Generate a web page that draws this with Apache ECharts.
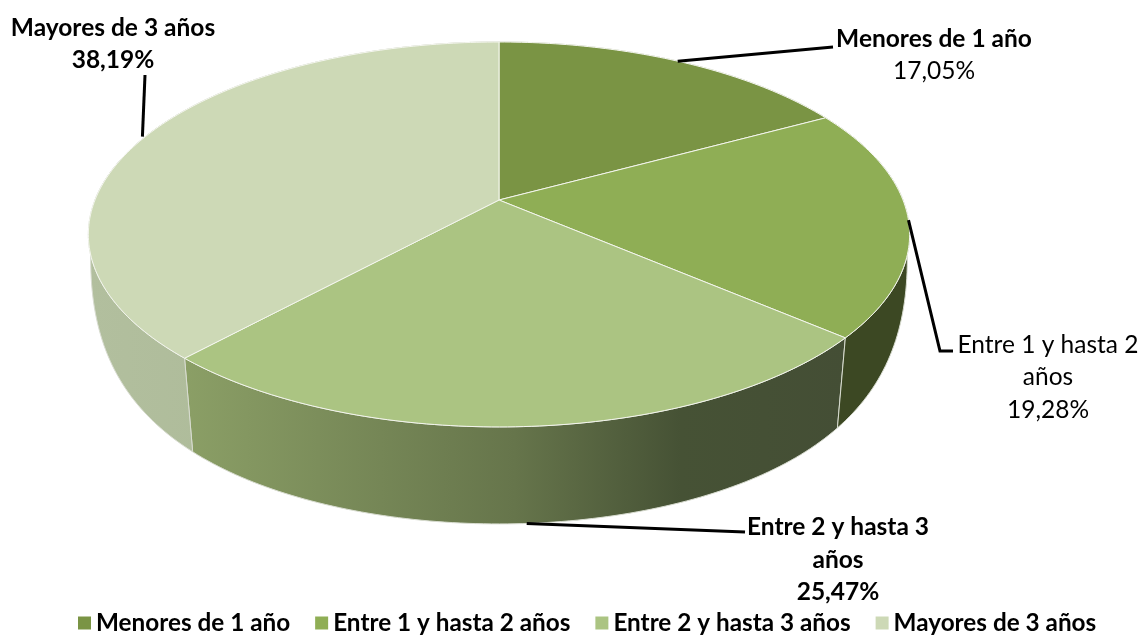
<!DOCTYPE html>
<html><head><meta charset="utf-8">
<style>html,body{margin:0;padding:0;background:#fff}#c{width:1140px;height:635px}</style>
<script src="https://cdn.jsdelivr.net/npm/echarts@6/dist/echarts.min.js"></script>
</head><body><div id="c"></div>
<script>
const categories = ['Menores de 1 año','Entre 1 y hasta 2 años','Entre 2 y hasta 3 años','Mayores de 3 años'];
const shares = [17.05,19.28,25.47,38.19];
const shareLabels = ['17,05%','19,28%','25,47%','38,19%'];
const topColors = ['#7a9444','#8fae55','#abc482','#cdd9b6'];

const pie = {cx:499, cy:200, R:404, k:186.3, p:0.179, depth:97, shrink:0.035};
const total = shares.reduce((a,b)=>a+b,0);
const sideFill = [
  '#5a6e33',
  '#3c4823',
  new echarts.graphic.LinearGradient(0,0,1,0,[{offset:0,color:'#8b9f66'},{offset:.5,color:'#66754b'},{offset:.75,color:'#465235'},{offset:1,color:'#444e35'}]),
  new echarts.graphic.LinearGradient(0,0,1,0,[{offset:0,color:'#b2bf9e'},{offset:1,color:'#a7b593'}])
];
// per-slice label layout: text lines and leader line
const labelLayout = [
  {cx:934, lines:[[39,true,categories[0]],[71,false,shareLabels[0]]], leader:[[833,47]], dx:0, onRim:false},
  {cx:1048, lines:[[345,false,'Entre 1 y hasta 2'],[377,false,'años'],[410,false,shareLabels[1]]], leader:[[940,351],[953,351]], dx:0, onRim:false},
  {cx:838, lines:[[527,true,'Entre 2 y hasta 3'],[560,true,'años'],[592,true,shareLabels[2]]], leader:[[745,532]], dx:0, onRim:true},
  {cx:113, lines:[[28,true,categories[3]],[60,true,shareLabels[3]]], leader:[[145,75]], dx:-3, onRim:false}
];
function rimParam(theta){
  const u=Math.sin(theta), v=-Math.cos(theta), s=1/(1-pie.p*v);
  return {v, pt:[pie.cx+pie.R*u*s, pie.cy+pie.k*v*s]};
}
function project(theta){ return rimParam(theta).pt; }
function lowerAt(theta){
  const {v,pt}=rimParam(theta), f=Math.max(0,v);
  const d=pie.depth*(1-Math.pow(1-f,2.5));
  return [pie.cx+(pt[0]-pie.cx)*(1-pie.shrink*f), pt[1]+d];
}
function angles(a0,a1){
  const n=Math.max(8,Math.ceil((a1-a0)*60)), r=[];
  for(let i=0;i<=n;i++) r.push(a0+(a1-a0)*i/n);
  return r;
}
function sliceRange(i){
  const before=shares.slice(0,i).reduce((a,b)=>a+b,0);
  return [before/total*2*Math.PI,(before+shares[i])/total*2*Math.PI];
}
const font='Lato, "Open Sans", sans-serif';
const render = i => () => {
  const [a0,a1]=sliceRange(i), th=angles(a0,a1), rim=th.map(project);
  const children=[];
  children.push({type:'polygon',z2:i===1?2:1,shape:{points:rim.concat(th.map(lowerAt).reverse())},
    style:{fill:sideFill[i],stroke:'#d8dcd0',lineWidth:1}});
  children.push({type:'polygon',z2:10,shape:{points:[[pie.cx,pie.cy]].concat(rim)},
    style:{fill:topColors[i],stroke:'#f4f6ee',lineWidth:1}});
  const midA=(a0+a1)/2, lay=labelLayout[i];
  const base=lay.onRim?lowerAt(midA):project(midA);
  const start=[base[0]+lay.dx,base[1]];
  children.push({type:'polyline',z2:20,shape:{points:[start].concat(lay.leader)},
    style:{fill:null,stroke:'#000',lineWidth:3}});
  lay.lines.forEach(l=>children.push({type:'text',z2:20,x:lay.cx,y:l[0],
    style:{text:l[2],fill:'#000',font:(l[1]?'bold ':'')+'24.5px '+font,textAlign:'center',textVerticalAlign:'middle'}}));
  return {type:'group',children};
};
const chart=echarts.init(document.getElementById('c'),null,{renderer:'canvas'});
chart.setOption({
  animation:false,
  backgroundColor:'#fff',
  legend:{left:78,top:611,padding:0,itemWidth:13,itemHeight:13,itemGap:25,icon:'rect',
    data:categories,
    textStyle:{fontFamily:font,fontWeight:'bold',fontSize:24.3,color:'#000'}},
  series:categories.map((name,i)=>({
    type:'custom',name,coordinateSystem:'none',
    itemStyle:{color:topColors[i]},
    data:[shares[i]],
    renderItem:render(i)
  }))
});
</script></body></html>
